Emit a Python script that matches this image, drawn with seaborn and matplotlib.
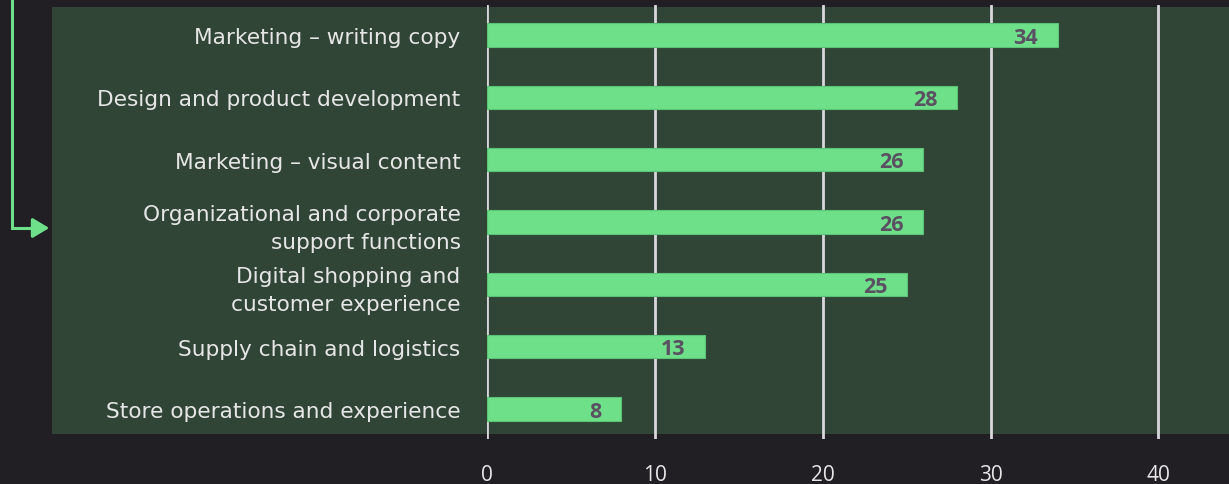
import matplotlib
matplotlib.use("Agg")
import matplotlib.pyplot as plt
import seaborn as sns
import pandas as pd
from matplotlib.patches import Rectangle, FancyArrowPatch

categories = [
    "Marketing – writing copy",
    "Design and product development",
    "Marketing – visual content",
    "Organizational and corporate\nsupport functions",
    "Digital shopping and\ncustomer experience",
    "Supply chain and logistics",
    "Store operations and experience",
]
values = [34, 28, 26, 26, 25, 13, 8]
xticks = [0, 10, 20, 30, 40]

BG = "#221f24"
PANEL = "#314536"
GREEN = "#6fe08a"
GRID = "#d9d5dd"
LABEL = "#e6e6e6"
NUM = "#5a5062"

sns.set_theme(style="white")
plt.rcParams["font.family"] = ["DejaVu Sans"]

W, H = 1229, 485
fig = plt.figure(figsize=(W / 100, H / 100), dpi=100, facecolor=BG)

# background axes with the green panel and the arrow
bg = fig.add_axes([0, 0, 1, 1], zorder=-1)
bg.set_xlim(0, W)
bg.set_ylim(H, 0)
bg.axis("off")
bg.add_patch(Rectangle((52, 8), W - 52, 435 - 8, facecolor=PANEL, edgecolor="none"))
bg.plot([12, 12, 40], [0, 229, 229], color=GREEN, linewidth=2.2, solid_joinstyle="miter")
bg.add_patch(FancyArrowPatch((36, 229), (52, 229),
                             arrowstyle="-|>,head_length=10,head_width=6",
                             color=GREEN, linewidth=2.2, mutation_scale=1))

ax = fig.add_axes([487 / W, 1 - 440 / H, 1 - 487 / W, (440 - 6) / H], zorder=1)
ax.set_facecolor("none")

df = pd.DataFrame({"category": categories, "value": values})
sns.barplot(data=df, y="category", x="value", orient="h", color=GREEN,
            width=0.37, saturation=1, ax=ax, zorder=3, edgecolor="#5cc477",
            linewidth=0.8)

ax.set_xlim(0, 44.2)
ax.set_ylim(6.481, -0.481)
ax.set_xticks(xticks)
ax.set_xticklabels([str(t) for t in xticks],
                   family=["Liberation Sans Narrow", "Open Sans", "DejaVu Sans"],
                   fontsize=15, color=LABEL)
ax.tick_params(axis="x", length=0, pad=18)
ax.tick_params(axis="y", length=0, pad=19)
for lab in ax.get_yticklabels():
    lab.set_color(LABEL)
    lab.set_fontsize(15.6)
    lab.set_linespacing(1.5)
ax.set_xlabel("")
ax.set_ylabel("")
for s in ax.spines.values():
    s.set_visible(False)
ax.grid(axis="x", color=GRID, linewidth=2, zorder=1)
ax.grid(axis="y", visible=False)
ax.set_axisbelow(True)

for i, v in enumerate(values):
    ax.annotate(str(v), xy=(v, i), xytext=(-14, -1.5), textcoords="offset points",
                ha="right", va="center", fontsize=15.5, fontweight="bold",
                color=NUM, family=["Open Sans", "DejaVu Sans"], zorder=4)

fig.savefig("out.png", dpi=100, facecolor=BG)
